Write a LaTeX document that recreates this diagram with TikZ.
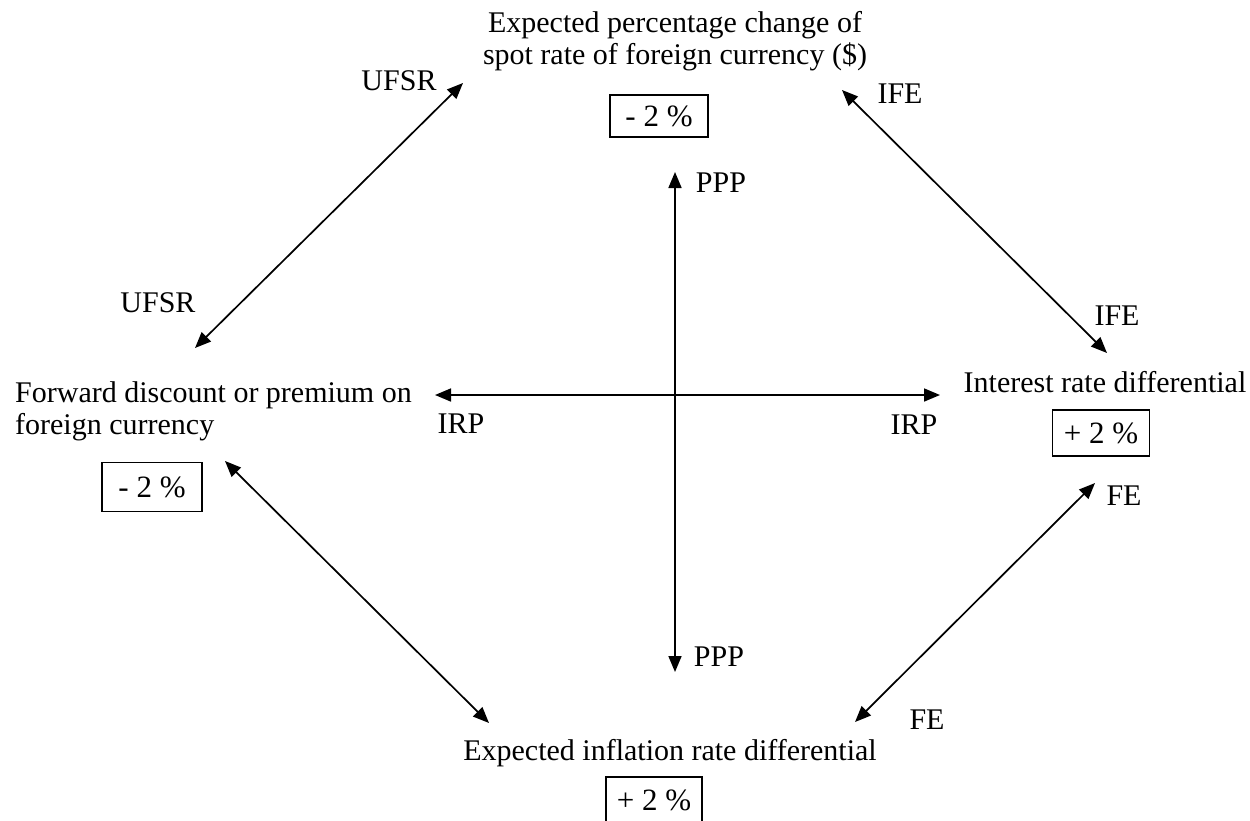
\documentclass[tikz,border=0pt]{standalone}
\usepackage{fontspec}
\setmainfont{Liberation Serif}
\usetikzlibrary{arrows.meta}
\begin{document}
\begin{tikzpicture}[x=1pt,y=-1pt,
  lbl/.style={font=\fontsize{30}{32}\selectfont, inner sep=0pt},
  pct/.style={draw, line width=1.3pt, font=\fontsize{31}{32}\selectfont, inner sep=0pt},
  link/.style={line width=1.7pt, {Triangle[length=16pt,width=13pt]}-{Triangle[length=16pt,width=13pt]}}]
\useasboundingbox (0,0) rectangle (1250,820);
% main texts
\node[lbl, align=center] (spot) at (675,41) {Expected percentage change of\\spot rate of foreign currency (\$)};
\node[lbl, align=left, anchor=west] (fwd) at (15,411) {Forward discount or premium on\\foreign currency};
\node[lbl, anchor=base] (int) at (1105,392) {Interest rate differential};
\node[lbl, anchor=base] (inf) at (670,760) {Expected inflation rate differential};
% percentage boxes
\node[pct, minimum width=98pt, minimum height=42pt] (spotpct) at (659,116) {- 2 \%};
\node[pct, minimum width=100pt, minimum height=49pt] (fwdpct) at (152,487) {- 2 \%};
\node[pct, minimum width=97pt, minimum height=46pt] (intpct) at (1101,433) {+ 2 \%};
\node[pct, minimum width=96pt, minimum height=46pt] (infpct) at (654,800) {+ 2 \%};
% arrow end points
\coordinate (ufsrA) at (463,83);
\coordinate (ufsrB) at (195,348);
\coordinate (ifeA) at (842,90);
\coordinate (ifeB) at (1107,353);
\coordinate (pppA) at (675,172);
\coordinate (pppB) at (675,672);
\coordinate (irpA) at (435,395);
\coordinate (irpB) at (940,395);
\coordinate (feA) at (1095,483);
\coordinate (feB) at (855,722);
\coordinate (fiA) at (225,461);
\coordinate (fiB) at (489,723);
% arrows
\draw[link] (ufsrA) -- (ufsrB);
\draw[link] (ifeA) -- (ifeB);
\draw[link] (pppA) -- (pppB);
\draw[link] (irpA) -- (irpB);
\draw[link] (feA) -- (feB);
\draw[link] (fiA) -- (fiB);
% arrow labels
\node[lbl] (ufsr1) at (399,81) {UFSR};
\node[lbl] (ufsr2) at (158,303) {UFSR};
\node[lbl] (ife1) at (900,94) {IFE};
\node[lbl] (ife2) at (1117,316) {IFE};
\node[lbl] (irp1) at (461,424) {IRP};
\node[lbl] (irp2) at (914,425) {IRP};
\node[lbl] (ppp1) at (721,183) {PPP};
\node[lbl] (ppp2) at (719,657) {PPP};
\node[lbl] (fe1) at (1124,496) {FE};
\node[lbl] (fe2) at (927,720) {FE};
\end{tikzpicture}
\end{document}
